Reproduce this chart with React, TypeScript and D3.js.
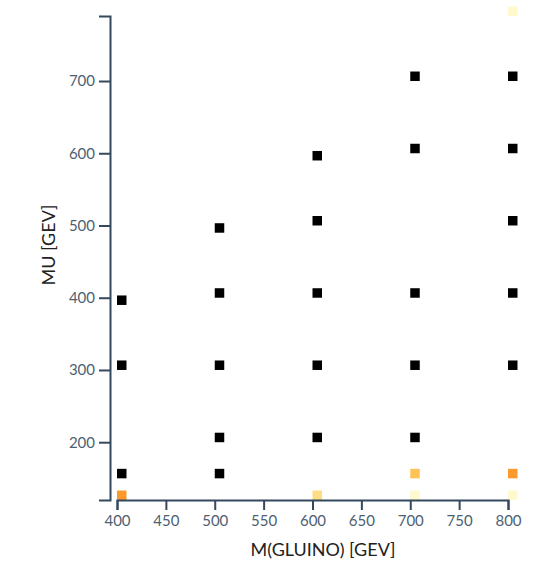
import { useRef, useEffect } from 'react';
import * as d3 from 'd3';

// M(gluino) / mu grid points, level = null means excluded (black)
const gluino = [400, 400, 400, 400, 500, 500, 500, 500, 500, 600, 600, 600, 600, 600, 600, 700, 700, 700, 700, 700, 700, 700, 800, 800, 800, 800, 800, 800, 800, 800];
const mu = [120, 150, 300, 390, 150, 200, 300, 400, 490, 120, 200, 300, 400, 500, 590, 120, 150, 200, 300, 400, 600, 700, 120, 150, 300, 400, 500, 600, 700, 790];
const level: (number | null)[] = [0.5, null, null, null, null, null, null, null, null, 0.27, null, null, null, null, null, 0.07, 0.37, null, null, null, null, null, 0.07, 0.5, null, null, null, null, null, 0.07];

const xTicks = [400, 450, 500, 550, 600, 650, 700, 750, 800];
const yTicks = [200, 300, 400, 500, 600, 700];

const W = 548;
const H = 564;

export default function App() {
  const svgRef = useRef<SVGSVGElement>(null);

  useEffect(() => {
    if (!svgRef.current) return;
    const svg = d3.select(svgRef.current);
    svg.selectAll('*').remove();

    const x = d3.scaleLinear().domain([400, 800]).range([117, 508]);
    const y = d3.scaleLinear().domain([120, 790]).range([500, 16]);
    const color = d3.scaleSequential(d3.interpolateYlOrBr).domain([0, 1]);
    const axisColor = '#34495e';
    const size = 9.5;

    // squares
    svg.append('g')
      .selectAll('rect')
      .data(gluino.map((g, i) => ({ g, m: mu[i], l: level[i] })))
      .join('rect')
      .attr('x', (d) => x(d.g))
      .attr('y', (d) => y(d.m) - size)
      .attr('width', size)
      .attr('height', size)
      .attr('fill', (d) => (d.l == null ? '#000' : color(d.l)));

    const xAxis = svg.append('g')
      .attr('transform', 'translate(0,500)')
      .call(d3.axisBottom(x).tickValues(xTicks).tickSize(10).tickPadding(5));

    const yAxis = svg.append('g')
      .attr('transform', 'translate(110,0)')
      .call(d3.axisLeft(y).tickValues(yTicks).tickSize(11).tickPadding(4));

    [xAxis, yAxis].forEach((a) => {
      a.selectAll('path, line').attr('stroke', axisColor).attr('stroke-width', 2);
      a.selectAll('text')
        .attr('fill', '#4e5f72')
        .attr('font-size', 15)
        .attr('font-family', 'Lato, sans-serif');
    });

    svg.append('text')
      .attr('x', 323)
      .attr('y', 556)
      .attr('text-anchor', 'middle')
      .attr('font-size', 18)
      .attr('font-family', 'Lato, sans-serif')
      .attr('fill', '#222')
      .text('M(GLUINO) [GEV]');

    svg.append('text')
      .attr('transform', 'translate(55,245) rotate(-90)')
      .attr('text-anchor', 'middle')
      .attr('font-size', 18)
      .attr('font-family', 'Lato, sans-serif')
      .attr('fill', '#222')
      .text('MU [GEV]');
  }, []);

  return (
    <svg
      ref={svgRef}
      width={W}
      height={H}
      style={{ position: 'absolute', left: 0, top: 0, background: '#fff' }}
    />
  );
}
